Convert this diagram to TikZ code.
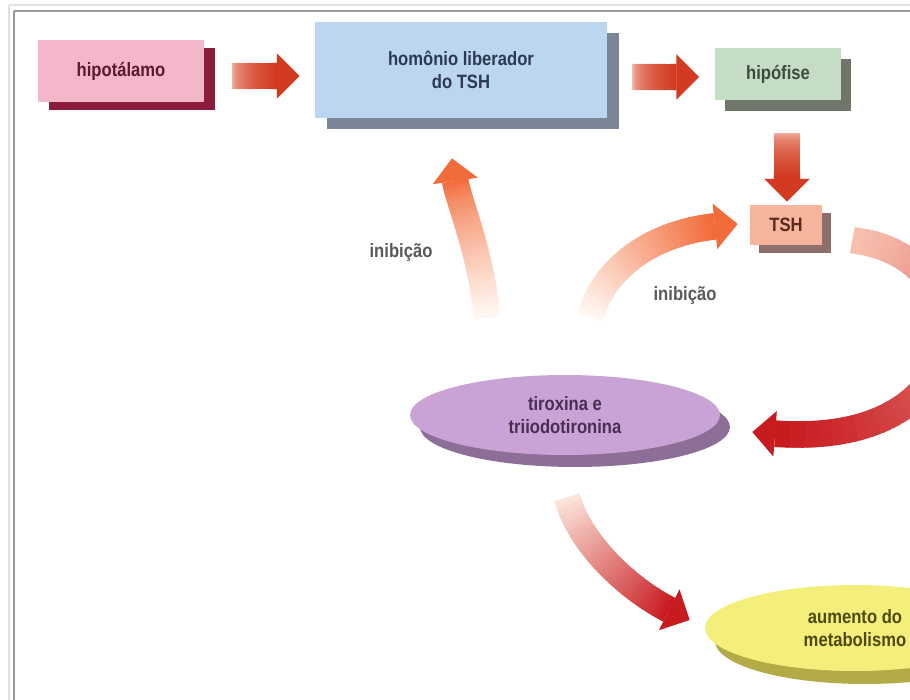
\documentclass[tikz,border=0pt]{standalone}
\usepackage{fontspec}
\newfontfamily\labelfont{Liberation Sans}[FakeStretch=0.86]
\usetikzlibrary{calc,shadows,shapes.geometric}

\definecolor{hipofill}{HTML}{F4B6C9}
\definecolor{hiposhade}{HTML}{8C1C3C}
\definecolor{hipotext}{HTML}{5B1830}
\definecolor{hormfill}{HTML}{BCD5F0}
\definecolor{hormshade}{HTML}{7A8595}
\definecolor{hormtext}{HTML}{2C3A52}
\definecolor{pitfill}{HTML}{C5DCC5}
\definecolor{pitshade}{HTML}{6F7868}
\definecolor{pittext}{HTML}{3D4A3D}
\definecolor{tshfill}{HTML}{F6B49C}
\definecolor{tshshade}{HTML}{8F6F6B}
\definecolor{tshtext}{HTML}{5A2A22}
\definecolor{tirofill}{HTML}{C9A3D6}
\definecolor{tiroshade}{HTML}{8C6E96}
\definecolor{tirotext}{HTML}{4A2E52}
\definecolor{metafill}{HTML}{F3EF7A}
\definecolor{metashade}{HTML}{B3AB45}
\definecolor{metatext}{HTML}{4D4A12}
\definecolor{redtail}{HTML}{FBDACB}
\definecolor{redhead}{HTML}{D23B22}
\definecolor{inibtail}{HTML}{FFF8F2}
\definecolor{inibhead}{HTML}{F26B3A}
\definecolor{darktail}{HTML}{FCE4DA}
\definecolor{arctail}{HTML}{F7BFAE}
\definecolor{darkhead}{HTML}{C81B20}

% tail colour, head colour, start, control, control, tip
\newcommand{\fatarrow}[6]{%
  \coordinate (fa0) at (#3);
  \coordinate (fa1) at (#4);
  \coordinate (fa2) at (#5);
  \coordinate (fa3) at (#6);
  \coordinate (fab) at ($(fa3)!13pt!(fa2)$);
  \foreach \k in {0,...,40}
    \path (fa0) .. controls (fa1) and (fa2) .. (fab) coordinate[pos=\k/40] (q\k);
  \foreach \k [evaluate=\k as \p using int(100*\k/39), evaluate=\k as \n using {int(min(\k+2,40))}] in {0,...,39}
    \draw[line width=15pt, color=#2!\p!#1] (q\k) -- (q\n);
  \fill[#2] (fa3) -- ($(fab)!13pt!90:(fa3)$) -- ($(fab)!13pt!-90:(fa3)$) -- cycle;
}
\newcommand{\straightarrow}[4]{\fatarrow{#1}{#2}{#3}{#3}{#3}{#4}}

\begin{document}
\begin{tikzpicture}[x=0.02cm, y=-0.02cm,
    box/.style={font=\labelfont\bfseries\fontsize{11}{13}\selectfont, align=center, inner sep=0pt},
    backdrop/.style n args={3}{drop shadow={shadow xshift=#1, shadow yshift=#2, fill=#3, opacity=1}},
    lbl/.style={font=\labelfont\bfseries\fontsize{11}{13}\selectfont, text=black!65}]
  \useasboundingbox (0,0) rectangle (910,700);
  \clip (0,0) rectangle (910,700);

  \draw[black!12, line width=1pt] (9,5) -- (920,5);
  \draw[black!12, line width=1pt] (9,5) -- (9,710);
  \draw[black!40, line width=1.3pt] (14,11) -- (920,11);
  \draw[black!40, line width=1.3pt] (14,11) -- (14,710);

  \node[box, fill=hipofill, text=hipotext, minimum width=3.34cm, minimum height=1.24cm,
        backdrop={0.22cm}{-0.16cm}{hiposhade}] (hipo) at (121,71) {hipotálamo};
  \node[box, fill=hormfill, text=hormtext, minimum width=5.84cm, minimum height=1.92cm,
        backdrop={0.24cm}{-0.22cm}{hormshade}] (horm) at (461,70) {homônio liberador\\do TSH};
  \node[box, fill=pitfill, text=pittext, minimum width=2.54cm, minimum height=1.04cm,
        backdrop={0.2cm}{-0.22cm}{pitshade}] (pit) at (778,74) {hipófise};
  \node[box, fill=tshfill, text=tshtext, minimum width=1.44cm, minimum height=0.8cm,
        backdrop={0.18cm}{-0.16cm}{tshshade}] (tsh) at (786,225) {TSH};
  \node[box, ellipse, fill=tirofill, text=tirotext, minimum width=6.2cm, minimum height=1.6cm,
        backdrop={0.2cm}{-0.24cm}{tiroshade}] (tiro) at (565,415) {tiroxina e\\triiodotironina};
  \node[box, ellipse, fill=metafill, text=metatext, minimum width=6cm, minimum height=1.72cm,
        backdrop={0.2cm}{-0.26cm}{metashade}] (meta) at (855,628) {aumento do\\metabolismo};

  \node[lbl] (inib1) at (401,252) {inibição};
  \node[lbl] (inib2) at (685,295) {inibição};

  \straightarrow{redtail}{redhead}{$(hipo.east)+(27,5)$}{$(horm.west)+(-15,6)$}
  \straightarrow{redtail}{redhead}{$(horm.east)+(25,7)$}{$(pit.west)+(-15,3)$}
  \straightarrow{redtail}{redhead}{$(tsh.north)+(1,-72)$}{$(tsh.north)+(1,-3)$}
  \fatarrow{inibtail}{inibhead}{$(tiro.north)+(-78,-57)$}{482,255}{458,200}{$(horm.south)+(-9,40)$}
  \fatarrow{inibtail}{inibhead}{$(tiro.north)+(25,-57)$}{605,262}{660,232}{$(tsh.west)+(-12,-1)$}
  \fatarrow{arctail}{darkhead}{$(tsh.east)+(30,15)$}{990,255}{985,450}{$(tiro.east)+(32,17)$}
  \fatarrow{darktail}{darkhead}{$(tiro.south)+(2,42)$}{580,545}{630,590}{$(meta.west)+(-15,-8)$}
\end{tikzpicture}
\end{document}
